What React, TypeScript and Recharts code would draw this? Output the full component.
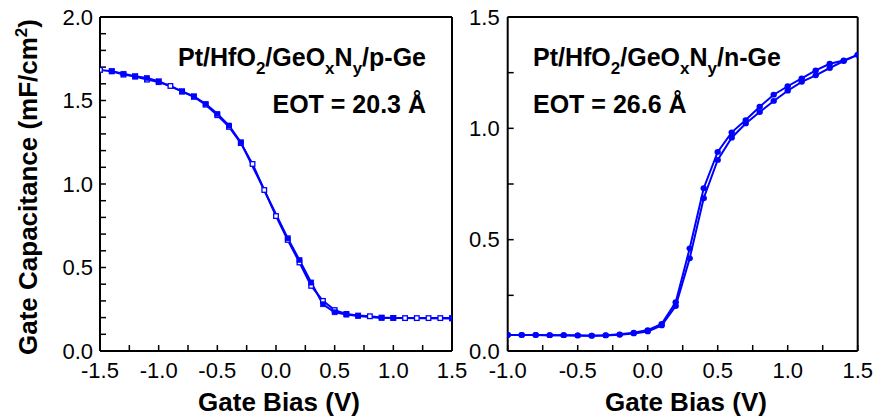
import React from 'react';
import { LineChart, Line, XAxis, YAxis } from 'recharts';

// ---- p-Ge panel data ----
const pOpenX = [-1.5, -1.4, -1.3, -1.2, -1.1, -1.0, -0.9, -0.8, -0.7, -0.6, -0.5, -0.4, -0.3, -0.2, -0.1, 0.0, 0.1, 0.2, 0.3, 0.4, 0.5, 0.6, 0.7, 0.8, 0.9, 1.0, 1.1, 1.2, 1.3, 1.4, 1.5];
const pOpenC = [1.683, 1.675, 1.655, 1.643, 1.625, 1.61, 1.587, 1.553, 1.522, 1.475, 1.412, 1.342, 1.245, 1.12, 0.964, 0.808, 0.665, 0.53, 0.39, 0.3, 0.245, 0.222, 0.212, 0.208, 0.2, 0.198, 0.197, 0.197, 0.197, 0.197, 0.197];
const pFilledX = [-1.4, -1.3, -1.2, -1.1, -1.0, -0.8, -0.7, -0.6, -0.5, -0.4, -0.3, 0.1, 0.2, 0.3, 0.4, 0.5, 0.6, 0.7, 0.9, 1.0, 1.5];
const pFilledC = [1.675, 1.66, 1.645, 1.635, 1.615, 1.555, 1.525, 1.48, 1.42, 1.35, 1.25, 0.675, 0.545, 0.41, 0.28, 0.232, 0.218, 0.21, 0.198, 0.197, 0.195];

// ---- n-Ge panel data ----
const nX = [-1.0, -0.9, -0.8, -0.7, -0.6, -0.5, -0.4, -0.3, -0.2, -0.1, 0.0, 0.1, 0.2, 0.3, 0.4, 0.5, 0.6, 0.7, 0.8, 0.9, 1.0, 1.1, 1.2, 1.3, 1.4, 1.5];
const nUpperC = [0.072, 0.072, 0.072, 0.071, 0.071, 0.07, 0.069, 0.071, 0.075, 0.082, 0.094, 0.122, 0.219, 0.461, 0.731, 0.894, 0.982, 1.037, 1.097, 1.151, 1.189, 1.224, 1.26, 1.29, 1.305, 1.33];
const nLowerC = [0.072, 0.072, 0.072, 0.071, 0.071, 0.07, 0.069, 0.07, 0.073, 0.079, 0.088, 0.115, 0.202, 0.416, 0.686, 0.858, 0.958, 1.022, 1.073, 1.123, 1.169, 1.209, 1.238, 1.271, 1.302, 1.33];

// ---- ticks ----
const pXTicks = [-1.5, -1.25, -1.0, -0.75, -0.5, -0.25, 0, 0.25, 0.5, 0.75, 1.0, 1.25, 1.5];
const pXLabels = [-1.5, -1.0, -0.5, 0, 0.5, 1.0, 1.5];
const pYTicks = [0, 0.1, 0.2, 0.3, 0.4, 0.5, 0.6, 0.7, 0.8, 0.9, 1.0, 1.1, 1.2, 1.3, 1.4, 1.5, 1.6, 1.7, 1.8, 1.9, 2.0];
const pYLabels = [0, 0.5, 1.0, 1.5, 2.0];
const nXTicks = [-1.0, -0.75, -0.5, -0.25, 0, 0.25, 0.5, 0.75, 1.0, 1.25, 1.5];
const nXLabels = [-1.0, -0.5, 0, 0.5, 1.0, 1.5];
const nYTicks = [0, 0.25, 0.5, 0.75, 1.0, 1.25, 1.5];
const nYLabels = [0, 0.5, 1.0, 1.5];

const pOpenData = pOpenX.map((x, i) => ({ x, c: pOpenC[i] }));
const pFilledData = pFilledX.map((x, i) => ({ x, c: pFilledC[i] }));
const nUpperData = nX.map((x, i) => ({ x, c: nUpperC[i] }));
const nLowerData = nX.map((x, i) => ({ x, c: nLowerC[i] }));

const BLUE = '#0000ff';
const FONT = '"Liberation Sans", Arial, sans-serif';

const fmt = (labels: number[]) => (v: number) =>
  labels.some((l) => Math.abs(l - v) < 1e-9) ? v.toFixed(1) : '';

const OpenSquare = (props: any) => {
  const { cx, cy, index } = props;
  if (cx == null || cy == null) return <g key={`o${index}`} />;
  return <rect key={`o${index}`} x={cx - 2.3} y={cy - 2.3} width={4.6} height={4.6} fill="#fff" stroke={BLUE} strokeWidth={1.3} />;
};
const FilledSquare = (props: any) => {
  const { cx, cy, index } = props;
  if (cx == null || cy == null) return <g key={`f${index}`} />;
  return <rect key={`f${index}`} x={cx - 2.6} y={cy - 2.6} width={5.2} height={5.2} fill={BLUE} stroke={BLUE} strokeWidth={0.5} />;
};
const Dot = (props: any) => {
  const { cx, cy, index } = props;
  if (cx == null || cy == null) return <g key={`d${index}`} />;
  return <ellipse key={`d${index}`} cx={cx} cy={cy} rx={3.2} ry={2.9} fill={BLUE} />;
};

const tickStyle = { fontSize: 22, fill: '#000', fontFamily: FONT };
const axisLine = { stroke: '#000', strokeWidth: 2 };
const tickLine = { stroke: '#000', strokeWidth: 1.5 };

export default function App() {
  return (
    <div style={{ position: 'absolute', left: 0, top: 0, width: 880, height: 420, background: '#fff', fontFamily: FONT }}>
      <div style={{ position: 'absolute', left: 0, top: 0 }}>
        <LineChart width={480} height={420} margin={{ top: 12, right: 20, bottom: 38, left: 40 }}>
          <XAxis dataKey="x" type="number" domain={[-1.5, 1.5]} allowDataOverflow ticks={pXTicks} interval={0}
            tickFormatter={fmt(pXLabels)} tick={tickStyle} tickSize={-6} tickMargin={17} height={31}
            axisLine={axisLine} tickLine={tickLine} />
          <XAxis xAxisId="top" orientation="top" type="number" domain={[-1.5, 1.5]} allowDataOverflow ticks={pXTicks}
            interval={0} tick={false} tickSize={-6} height={5} axisLine={axisLine} tickLine={tickLine} />
          <YAxis type="number" domain={[0, 2]} allowDataOverflow ticks={pYTicks} interval={0}
            tickFormatter={fmt(pYLabels)} tick={tickStyle} tickSize={-6} tickMargin={13} width={60}
            axisLine={axisLine} tickLine={tickLine} />
          <YAxis yAxisId="right" orientation="right" type="number" domain={[0, 2]} allowDataOverflow ticks={pYTicks}
            interval={0} tick={false} tickSize={-6} width={8} axisLine={axisLine} tickLine={tickLine} />
          <Line data={pOpenData} dataKey="c" stroke={BLUE} strokeWidth={2} dot={OpenSquare} isAnimationActive={false} />
          <Line data={pFilledData} dataKey="c" stroke={BLUE} strokeWidth={2} dot={FilledSquare} isAnimationActive={false} />
        </LineChart>
      </div>
      <div style={{ position: 'absolute', left: 460, top: 0 }}>
        <LineChart width={420} height={420} margin={{ top: 12, right: 14.3, bottom: 38, left: 7.7 }}>
          <XAxis dataKey="x" type="number" domain={[-1.0, 1.5]} allowDataOverflow ticks={nXTicks} interval={0}
            tickFormatter={fmt(nXLabels)} tick={tickStyle} tickSize={-6} tickMargin={17} height={31}
            axisLine={axisLine} tickLine={tickLine} />
          <XAxis xAxisId="top" orientation="top" type="number" domain={[-1.0, 1.5]} allowDataOverflow ticks={nXTicks}
            interval={0} tick={false} tickSize={-6} height={5} axisLine={axisLine} tickLine={tickLine} />
          <YAxis type="number" domain={[0, 1.5]} allowDataOverflow ticks={nYTicks} interval={0}
            tickFormatter={fmt(nYLabels)} tick={tickStyle} tickSize={-6} tickMargin={14} width={40}
            axisLine={axisLine} tickLine={tickLine} />
          <YAxis yAxisId="right" orientation="right" type="number" domain={[0, 1.5]} allowDataOverflow ticks={nYTicks}
            interval={0} tick={false} tickSize={-6} width={8} axisLine={axisLine} tickLine={tickLine} />
          <Line data={nLowerData} dataKey="c" stroke={BLUE} strokeWidth={2} dot={Dot} isAnimationActive={false} />
          <Line data={nUpperData} dataKey="c" stroke={BLUE} strokeWidth={2} dot={Dot} isAnimationActive={false} />
        </LineChart>
      </div>
      <svg width={880} height={420} style={{ position: 'absolute', left: 0, top: 0, pointerEvents: 'none' }}
        fontFamily={FONT} fontWeight="bold">
        <text transform="translate(37,187) rotate(-90)" textAnchor="middle" fontSize={26}>
          Gate Capacitance (mF/cm<tspan dy={-10} fontSize={17}>2</tspan><tspan dy={10}>)</tspan>
        </text>
        <text x={279} y={411} textAnchor="middle" fontSize={26}>Gate Bias (V)</text>
        <text x={686} y={411} textAnchor="middle" fontSize={26}>Gate Bias (V)</text>

        <text x={426} y={66} textAnchor="end" fontSize={25}>
          Pt/HfO<tspan dy={8} fontSize={17}>2</tspan><tspan dy={-8}>/GeO</tspan><tspan dy={8} fontSize={17}>x</tspan>
          <tspan dy={-8}>N</tspan><tspan dy={8} fontSize={17}>y</tspan><tspan dy={-8}>/p-Ge</tspan>
        </text>
        <text x={426} y={113} textAnchor="end" fontSize={25}>EOT = 20.3 Å</text>

        <text x={533} y={66} textAnchor="start" fontSize={25}>
          Pt/HfO<tspan dy={8} fontSize={17}>2</tspan><tspan dy={-8}>/GeO</tspan><tspan dy={8} fontSize={17}>x</tspan>
          <tspan dy={-8}>N</tspan><tspan dy={8} fontSize={17}>y</tspan><tspan dy={-8}>/n-Ge</tspan>
        </text>
        <text x={533} y={113} textAnchor="start" fontSize={25}>EOT = 26.6 Å</text>
      </svg>
    </div>
  );
}
